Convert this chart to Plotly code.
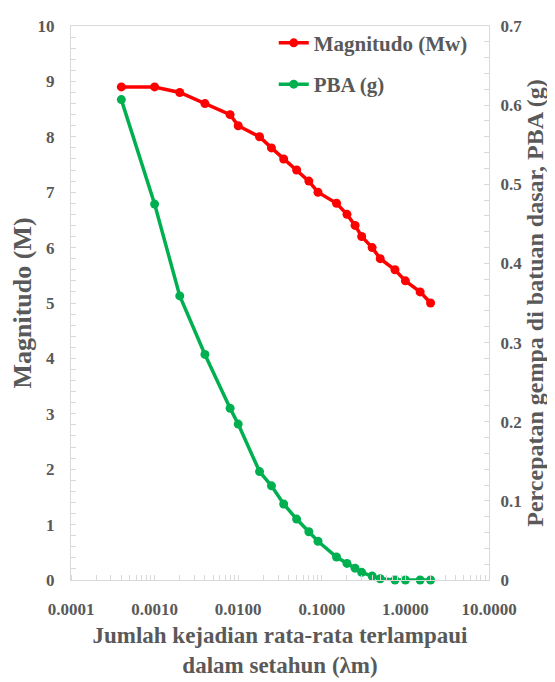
import plotly.graph_objects as go

# data
lambda_m = [0.0004, 0.001, 0.002, 0.004, 0.008, 0.01, 0.018, 0.025, 0.035, 0.05,
            0.07, 0.09, 0.15, 0.2, 0.25, 0.3, 0.4, 0.5, 0.75, 1.0, 1.5, 2.0]
magnitudo = [8.9, 8.9, 8.8, 8.6, 8.4, 8.2, 8.0, 7.8, 7.6, 7.4,
             7.2, 7.0, 6.8, 6.6, 6.4, 6.2, 6.0, 5.8, 5.6, 5.4, 5.2, 5.0]
pba = [0.607, 0.475, 0.359, 0.285, 0.217, 0.197, 0.137, 0.119, 0.096, 0.077,
       0.061, 0.049, 0.029, 0.021, 0.015, 0.0097, 0.005, 0.0016, 0.0, 0.0, 0.0, 0.0]

x_tickvals = [0.0001, 0.001, 0.01, 0.1, 1, 10]
x_ticktext = ["0.0001", "0.0010", "0.0100", "0.1000", "1.0000", "10.0000"]

FONT = "Liberation Serif"
GREY = "#595959"
AXIS = "#d9d9d9"

fig = go.Figure()
fig.add_trace(go.Scatter(
    x=lambda_m, y=magnitudo, name="<b>Magnitudo (Mw)</b>", mode="lines+markers",
    line=dict(color="#ff0000", width=3.5), marker=dict(size=9, color="#ff0000"),
    legendgroup="m", cliponaxis=False))
fig.add_trace(go.Scatter(
    x=lambda_m, y=pba, name="<b>PBA (g)</b>", mode="lines+markers", yaxis="y2",
    line=dict(color="#00b050", width=3.5), marker=dict(size=9, color="#00b050"),
    legendgroup="p", cliponaxis=False))

tickfont = dict(family=FONT, size=17, color=GREY, weight="bold")
xtitlefont = dict(family=FONT, size=23, color=GREY, weight="bold")

# the page body keeps its default 8px margin, so the figure is drawn 8px smaller
fig.update_layout(
    width=547, height=674,
    margin=dict(l=55, r=66, t=9, b=89),
    paper_bgcolor="white", plot_bgcolor="white",
    font=dict(family=FONT, color=GREY),
    showlegend=True,
    legend=dict(x=0.485, y=1.006, xanchor="left", yanchor="top", bgcolor="rgba(0,0,0,0)",
                font=dict(family=FONT, size=21, color=GREY), itemwidth=30,
                tracegroupgap=11),
    xaxis=dict(
        type="log", range=[-4, 1], tickvals=x_tickvals, ticktext=x_ticktext,
        showgrid=False, zeroline=False, showline=True, linecolor=AXIS, linewidth=1,
        mirror=True, ticks="", tickfont=tickfont, ticklabelstandoff=14,
        minor=dict(ticks="inside", ticklen=5, tickcolor=AXIS, dtick="D1", showgrid=False),
        title=dict(text="Jumlah kejadian rata-rata terlampaui<br>dalam setahun (λm)",
                   font=xtitlefont, standoff=8),
    ),
    yaxis=dict(
        range=[0, 10], dtick=1, showgrid=False, zeroline=False, showline=True,
        linecolor=AXIS, linewidth=1, ticks="inside", ticklen=5, tickcolor=AXIS,
        tickfont=tickfont, ticklabelstandoff=12,
        minor=dict(ticks="inside", ticklen=5, tickcolor=AXIS, dtick=0.2, showgrid=False),
        title=dict(text="Magnitudo (M)", standoff=2,
                   font=dict(family=FONT, size=26, color=GREY, weight="bold")),
    ),
    yaxis2=dict(
        range=[0, 0.7], dtick=0.1, overlaying="y", side="right", showgrid=False,
        zeroline=False, showline=True, linecolor=AXIS, linewidth=1, ticks="inside",
        ticklen=5, tickcolor=AXIS, tickfont=tickfont, ticklabelstandoff=7,
        minor=dict(ticks="inside", ticklen=5, tickcolor=AXIS, dtick=0.02, showgrid=False),
        title=dict(text="Percepatan gempa di batuan dasar, PBA (g)", standoff=0,
                   font=dict(family=FONT, size=24, color=GREY, weight="bold")),
    ),
)

fig.write_html("out.html")
